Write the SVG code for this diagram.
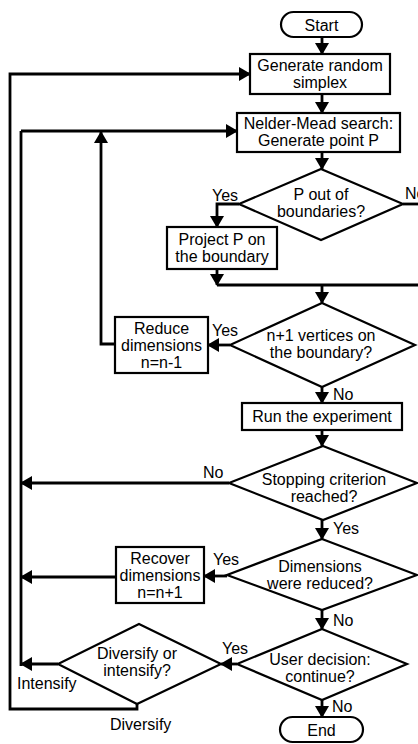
<svg xmlns="http://www.w3.org/2000/svg" width="418" height="744" viewBox="0 0 418 744">
<style>
.s{fill:#fff;stroke:#000;stroke-width:2.2}
.t{font-family:"Liberation Sans",Arial,sans-serif;font-size:16px;fill:#000;text-anchor:middle}
.l{font-family:"Liberation Sans",Arial,sans-serif;font-size:16px;fill:#000}
.c{fill:none;stroke:#000;stroke-width:2.8}
.a{marker-end:url(#ah)}
</style>
<defs>
<marker id="ah" markerUnits="userSpaceOnUse" viewBox="0 0 12 14" markerWidth="12" markerHeight="14" refX="11" refY="7" orient="auto">
<path d="M0,0 L12,7 L0,14 z" fill="#000"/>
</marker>
</defs>
<rect width="418" height="744" fill="#fff"/>
<g id="connectors">
<path class="c a" d="M322,37 V54"/>
<path class="c a" d="M322,94 V113"/>
<path class="c a" d="M137,704 V709 H10 V74 H250"/>
<path class="c" d="M21,666 V131"/>
<path class="c a" d="M21,131 H237"/>
<path class="c a" d="M322,152 V169"/>
<path class="c a" d="M239,204 H217 V227"/>
<path class="c" d="M403,204 H418"/>
<path class="c a" d="M217,269 V285"/>
<path class="c" d="M217,285 H418"/>
<path class="c a" d="M322,285 V303"/>
<path class="c a" d="M230,345 H208"/>
<path class="c a" d="M115,344 H101 V132"/>
<path class="c a" d="M322,387 V403"/>
<path class="c a" d="M322,430 V446"/>
<path class="c a" d="M229,483 H21"/>
<path class="c a" d="M322,520 V539"/>
<path class="c a" d="M227,576 H204"/>
<path class="c a" d="M116,577 H21"/>
<path class="c a" d="M322,610 V629"/>
<path class="c a" d="M237,664 H221"/>
<path class="c a" d="M58,664 H21"/>
<path class="c a" d="M322,700 V717"/>
</g>
<g id="labels">
<text class="l" x="212" y="201">Yes</text>
<text class="l" x="405" y="199">No</text>
<text class="l" x="212" y="336">Yes</text>
<text class="l" x="333" y="400">No</text>
<text class="l" x="203" y="478">No</text>
<text class="l" x="333" y="534">Yes</text>
<text class="l" x="213" y="565">Yes</text>
<text class="l" x="333" y="626">No</text>
<text class="l" x="222" y="654">Yes</text>
<text class="l" x="332" y="712">No</text>
<text class="l" x="17" y="689">Intensify</text>
<text class="l" x="110" y="730">Diversify</text>
</g>
<g id="start">
<rect class="s" x="281" y="12" width="81" height="25" rx="12.5"/>
<text class="t" x="321.5" y="30.5">Start</text>
</g>
<g id="generate">
<rect class="s" x="250" y="54" width="140" height="40"/>
<text class="t" x="320" y="71">Generate random</text>
<text class="t" x="320" y="88">simplex</text>
</g>
<g id="nelder">
<rect class="s" x="237" y="113" width="163" height="39"/>
<text class="t" x="318.5" y="129">Nelder-Mead search:</text>
<text class="t" x="318.5" y="146">Generate point P</text>
</g>
<g id="pout">
<polygon class="s" points="321,169 403,204 321,240 239,204"/>
<text class="t" x="321" y="200">P out of</text>
<text class="t" x="321" y="217">boundaries?</text>
</g>
<g id="project">
<rect class="s" x="167" y="227" width="110" height="42"/>
<text class="t" x="222" y="245">Project P on</text>
<text class="t" x="222" y="262">the boundary</text>
</g>
<g id="vertices">
<polygon class="s" points="322,303 415,345 322,387 230,345"/>
<text class="t" x="321" y="341">n+1 vertices on</text>
<text class="t" x="321" y="358">the boundary?</text>
</g>
<g id="reduce">
<rect class="s" x="115" y="317" width="93" height="56"/>
<text class="t" x="161.5" y="334">Reduce</text>
<text class="t" x="161.5" y="351">dimensions</text>
<text class="t" x="161.5" y="368">n=n-1</text>
</g>
<g id="run">
<rect class="s" x="242" y="403" width="160" height="27"/>
<text class="t" x="322" y="422">Run the experiment</text>
</g>
<g id="stopping">
<polygon class="s" points="323,446 417,483 323,520 229,483"/>
<text class="t" x="324" y="485">Stopping criterion</text>
<text class="t" x="324" y="502">reached?</text>
</g>
<g id="dimensions">
<polygon class="s" points="322,539 417,575 322,610 227,575"/>
<text class="t" x="320" y="572">Dimensions</text>
<text class="t" x="320" y="589">were reduced?</text>
</g>
<g id="recover">
<rect class="s" x="116" y="547" width="88" height="56"/>
<text class="t" x="160" y="564">Recover</text>
<text class="t" x="160" y="581">dimensions</text>
<text class="t" x="160" y="598">n=n+1</text>
</g>
<g id="user">
<polygon class="s" points="322,629 407,664 322,700 237,664"/>
<text class="t" x="320" y="665">User decision:</text>
<text class="t" x="320" y="682">continue?</text>
</g>
<g id="diversify">
<polygon class="s" points="139,624 221,664 137,704 58,664"/>
<text class="t" x="137" y="659">Diversify or</text>
<text class="t" x="137" y="676">intensify?</text>
</g>
<g id="end">
<rect class="s" x="280" y="717" width="83" height="25" rx="12.5"/>
<text class="t" x="321.5" y="736">End</text>
</g>
</svg>
